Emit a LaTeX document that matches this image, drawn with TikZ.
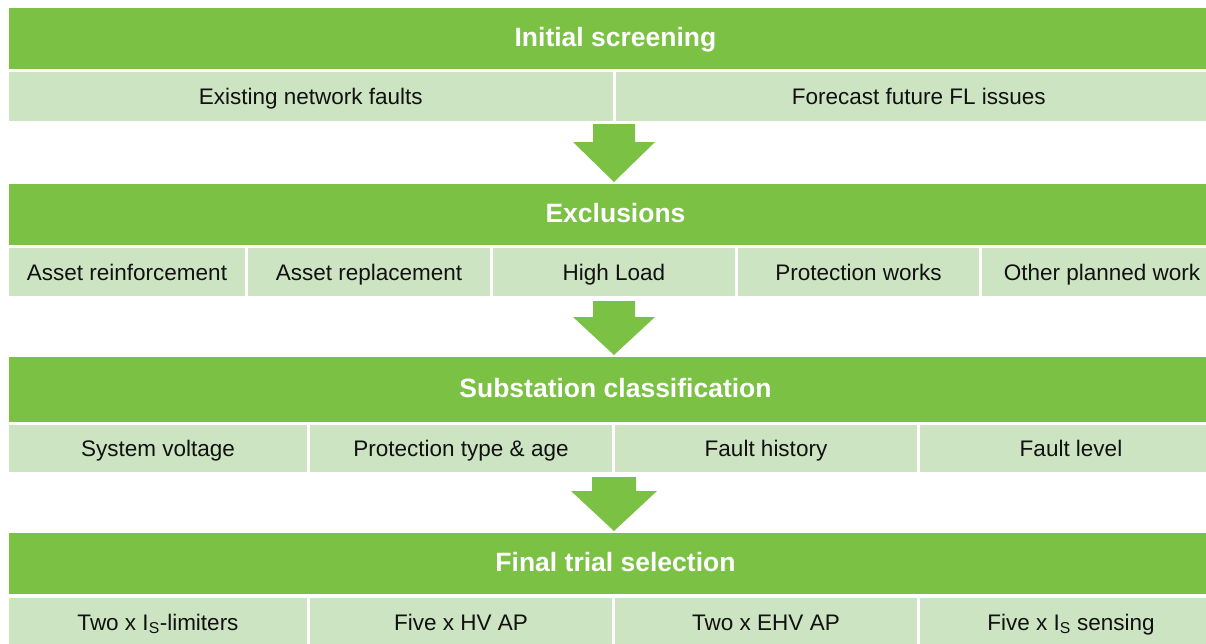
\documentclass[tikz,border=0pt]{standalone}
\usepackage{fontspec}
\setmainfont{Liberation Sans}
\definecolor{bandgreen}{HTML}{7BC143}
\definecolor{cellgreen}{HTML}{CDE4C2}
\definecolor{celltext}{HTML}{111111}

\begin{document}
\begin{tikzpicture}[x=1pt,y=-1pt,
  band/.style={fill=bandgreen, inner sep=0pt, outer sep=0pt, text=white,
    text height=15pt, text depth=0pt,
    font=\fontsize{26.5}{30}\selectfont\bfseries},
  cell/.style={fill=cellgreen, inner sep=0pt, outer sep=0pt, text=celltext,
    text height=16pt, text depth=0pt,
    font=\fontsize{22.5}{26}\selectfont},
  flow/.style={fill=bandgreen}]
\useasboundingbox (0,0) rectangle (1206,643);

% stage 1
\node[band, minimum width=1213pt, minimum height=61pt] (b1) at (615.5,38.5) {Initial screening};
\node[cell, minimum width=603.5pt, minimum height=49pt] (c11) at (310.75,96.5) {Existing network faults};
\node[cell, minimum width=606.5pt, minimum height=49pt] (c12) at (918.75,96.5) {Forecast future FL issues};

% stage 2
\node[band, minimum width=1213pt, minimum height=61pt] (b2) at (615.5,214.5) {Exclusions};
\node[cell, minimum width=236pt, minimum height=48pt] (c21) at (127,272) {Asset reinforcement};
\node[cell, minimum width=242pt, minimum height=48pt] (c22) at (369,272) {Asset replacement};
\node[cell, minimum width=242pt, minimum height=48pt] (c23) at (614,272) {High Load};
\node[cell, minimum width=241pt, minimum height=48pt] (c24) at (858.5,272) {Protection works};
\node[cell, minimum width=240pt, minimum height=48pt] (c25) at (1102,272) {Other planned work};

% stage 3
\node[band, minimum width=1213pt, minimum height=65pt] (b3) at (615.5,389.5) {Substation classification};
\node[cell, minimum width=298pt, minimum height=47pt] (c31) at (158,448.5) {System voltage};
\node[cell, minimum width=302pt, minimum height=47pt] (c32) at (461,448.5) {Protection type \& age};
\node[cell, minimum width=302pt, minimum height=47pt] (c33) at (766,448.5) {Fault history};
\node[cell, minimum width=302pt, minimum height=47pt] (c34) at (1071,448.5) {Fault level};

% stage 4
\node[band, minimum width=1213pt, minimum height=61pt] (b4) at (615.5,563.5) {Final trial selection};
\node[cell, minimum width=298pt, minimum height=48pt] (c41) at (158,622) {Two x I\textsubscript{S}-limiters};
\node[cell, minimum width=302pt, minimum height=48pt] (c42) at (461,622) {Five x HV AP};
\node[cell, minimum width=302pt, minimum height=48pt] (c43) at (766,622) {Two x EHV AP};
\node[cell, minimum width=302pt, minimum height=48pt] (c44) at (1071,622) {Five x I\textsubscript{S} sensing};

% block arrows between stages
\fill[flow] (593,124) -- (635,124) -- (635,142) -- (655,142) -- (614,182)
  -- (573,142) -- (593,142) -- cycle;
\fill[flow] (593,301) -- (635,301) -- (635,317) -- (655,317) -- (614,355)
  -- (573,317) -- (593,317) -- cycle;
\fill[flow] (592,477) -- (636,477) -- (636,491) -- (657,491) -- (614,531)
  -- (571,491) -- (592,491) -- cycle;
\end{tikzpicture}
\end{document}
